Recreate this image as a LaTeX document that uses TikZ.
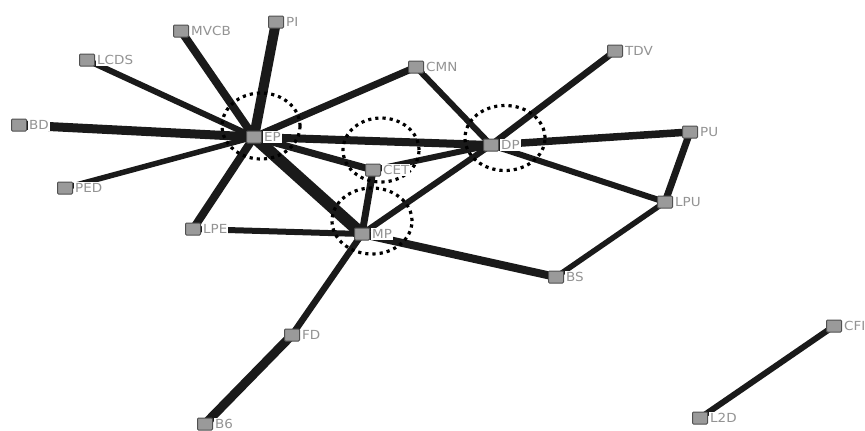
\documentclass[tikz,border=0pt]{standalone}
\usepackage{fontspec}
\newfontfamily\labfont{DejaVu Sans}[FakeStretch=1.08]
\usetikzlibrary{shapes.geometric}
\pgfdeclarelayer{edges}
\pgfdeclarelayer{rings}
\pgfsetlayers{edges,rings,main}
\definecolor{nodegray}{HTML}{9A9A9A}
\definecolor{nodeborder}{HTML}{505050}
\definecolor{labgray}{HTML}{939393}
\definecolor{edgeblack}{HTML}{1A1A1A}
\tikzset{
  vtx/.style={rectangle, minimum width=15pt, minimum height=12pt, inner sep=0pt,
    fill=nodegray, draw=nodeborder, line width=1pt, rounded corners=1pt},
  lab/.style={anchor=west, fill=white, text=labgray, inner sep=1pt,
    font=\labfont\fontsize{12.5}{13}\selectfont},
  ring/.style={ellipse, draw=black, line width=3.2pt, dash pattern=on 3.2pt off 4pt,
    minimum width=80pt, minimum height=66pt, inner sep=0pt},
  link/.style={draw=edgeblack, line cap=butt},
}
\begin{document}
\begin{tikzpicture}[x=1pt,y=-1pt]
\useasboundingbox (0,0) rectangle (865,431);
% vertices
\node[vtx] (PI)   at (276,22)  {};
\node[vtx] (MVCB) at (181,31)  {};
\node[vtx] (LCDS) at (87,60)   {};
\node[vtx] (BD)   at (19,125)  {};
\node[vtx] (PED)  at (65,188)  {};
\node[vtx] (EP)   at (254,137) {};
\node[vtx] (CMN)  at (416,67)  {};
\node[vtx] (TDV)  at (615,51)  {};
\node[vtx] (DP)   at (491,145) {};
\node[vtx] (PU)   at (690,132) {};
\node[vtx] (LPU)  at (665,202) {};
\node[vtx] (CET)  at (373,170) {};
\node[vtx] (LPE)  at (193,229) {};
\node[vtx] (MP)   at (362,234) {};
\node[vtx] (BS)   at (556,277) {};
\node[vtx] (FD)   at (292,335) {};
\node[vtx] (B6)   at (205,424) {};
\node[vtx] (CFI)  at (834,326) {};
\node[vtx] (L2D)  at (700,418) {};
% labels
\node[lab] (PIt)   at ([xshift=1pt]PI.east)   {PI};
\node[lab] (MVCBt) at ([xshift=1pt]MVCB.east) {MVCB};
\node[lab] (LCDSt) at ([xshift=1pt]LCDS.east) {LCDS};
\node[lab] (BDt)   at ([xshift=1pt]BD.east)   {BD};
\node[lab] (PEDt)  at ([xshift=1pt]PED.east)  {PED};
\node[lab] (EPt)   at ([xshift=1pt]EP.east)   {EP};
\node[lab] (CMNt)  at ([xshift=1pt]CMN.east)  {CMN};
\node[lab] (TDVt)  at ([xshift=1pt]TDV.east)  {TDV};
\node[lab] (DPt)   at ([xshift=1pt]DP.east)   {DP};
\node[lab] (PUt)   at ([xshift=1pt]PU.east)   {PU};
\node[lab] (LPUt)  at ([xshift=1pt]LPU.east)  {LPU};
\node[lab] (CETt)  at ([xshift=1pt]CET.east)  {CET};
\node[lab] (LPEt)  at ([xshift=1pt]LPE.east)  {LPE};
\node[lab] (MPt)   at ([xshift=1pt]MP.east)   {MP};
\node[lab] (BSt)   at ([xshift=1pt]BS.east)   {BS};
\node[lab] (FDt)   at ([xshift=1pt]FD.east)   {FD};
\node[lab] (B6t)   at ([xshift=1pt]B6.east)   {B6};
\node[lab] (CFIt)  at ([xshift=1pt]CFI.east)  {CFI};
\node[lab] (L2Dt)  at ([xshift=1pt]L2D.east)  {L2D};
% dotted rings
\begin{pgfonlayer}{rings}
\node[ring, minimum width=78pt, minimum height=66pt] (EPring)  at (261,126) {};
\node[ring, minimum width=76pt, minimum height=64pt] (CETring) at (381,150) {};
\node[ring, minimum width=80pt, minimum height=66pt] (MPring)  at (372,221) {};
\node[ring, minimum width=80pt, minimum height=65pt] (DPring)  at (505,138) {};
\end{pgfonlayer}
% links
\begin{pgfonlayer}{edges}
\draw[link, line width=10pt] (EP.center) -- (PI.center);
\draw[link, line width=8pt]  (EP.center) -- (MVCB.center);
\draw[link, line width=6pt]  (EP.center) -- (LCDS.center);
\draw[link, line width=9pt]  (EP.center) -- (BD.center);
\draw[link, line width=5.5pt](EP.center) -- (PED.center);
\draw[link, line width=8pt]  (EP.center) -- (LPE.center);
\draw[link, line width=12pt] (EP.center) -- (MP.center);
\draw[link, line width=7pt]  (EP.center) -- (CET.center);
\draw[link, line width=8pt]  (EP.center) -- (DP.center);
\draw[link, line width=7pt]  (EP.center) -- (CMN.center);
\draw[link, line width=6pt]  (CMN.center) -- (DP.center);
\draw[link, line width=6.5pt](TDV.center) -- (DP.center);
\draw[link, line width=7.5pt](DP.center) -- (PU.center);
\draw[link, line width=6pt]  (DP.center) -- (LPU.center);
\draw[link, line width=7pt]  (PU.center) -- (LPU.center);
\draw[link, line width=6pt]  (CET.center) -- (DP.center);
\draw[link, line width=7pt]  (CET.center) -- (MP.center);
\draw[link, line width=6pt]  (MP.center) -- (DP.center);
\draw[link, line width=6pt]  (LPE.center) -- (MP.center);
\draw[link, line width=8pt]  (MP.center) -- (BS.center);
\draw[link, line width=5.5pt](LPU.center) -- (BS.center);
\draw[link, line width=6.5pt](MP.center) -- (FD.center);
\draw[link, line width=9pt]  (FD.center) -- (B6.center);
\draw[link, line width=6pt]  (CFI.center) -- (L2D.center);
\end{pgfonlayer}
\end{tikzpicture}
\end{document}
